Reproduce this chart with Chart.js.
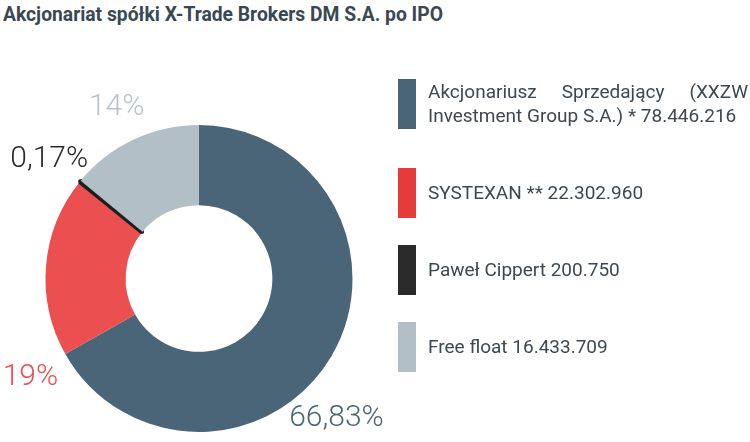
<!DOCTYPE html>
<html lang="pl">
<head>
<meta charset="utf-8">
<script src="https://cdn.jsdelivr.net/npm/chart.js@4"></script>
<style>
  html, body { margin: 0; padding: 0; background: #fff; }
  body { width: 750px; height: 442px; position: relative; overflow: hidden; font-family: Roboto, "Noto Sans", sans-serif; }
  h1 { position: absolute; left: 3px; top: 3px; margin: 0; font-size: 19.3px; font-weight: 700; color: #3a4853; }
  #wrap { position: absolute; left: 0; top: 0; width: 400px; height: 442px; }
  #legend { position: absolute; left: 398px; top: 79px; width: 350px; }
  .item { display: flex; align-items: center; height: 50px; margin-bottom: 27px; }
  .item:first-child { margin-bottom: 39px; }
  .box { width: 18px; height: 50px; flex: none; }
  .txt { margin-left: 12px; font-size: 19px; line-height: 24px; color: #3d4852; text-align: justify; text-align-last: left; width: 320px; }
</style>
</head>
<body>
<h1>Akcjonariat spółki X-Trade Brokers DM S.A. po IPO</h1>
<div id="wrap"><canvas id="donut"></canvas></div>
<div id="legend"></div>
<script>
// dane
const labels = ['Akcjonariusz Sprzedający (XXZW Investment Group S.A.) *', 'SYSTEXAN **', 'Paweł Cippert', 'Free float'];
const shares = [78446216, 22302960, 200750, 16433709];
const shareLabels = ['78.446.216', '22.302.960', '200.750', '16.433.709'];
const percentLabels = ['66,83%', '19%', '0,17%', '14%'];

const sliceColors = ['#4a6478', '#ec4f4f', '#1e1e1e', '#b3bfc6'];
const legendColors = ['#4a6478', '#e63b3b', '#2a2a2a', '#b3bfc6'];
const labelColors = ['#4a6478', '#ec4f4f', '#2a2a2a', '#b8c3ca'];
// gdzie w łuku postawić etykietę (ułamek łuku)
const labelAnchor = [0.56, 0.0, 0.5, 0.5];

// legenda HTML
const legend = document.getElementById('legend');
labels.forEach(function (l, i) {
    const item = document.createElement('div');
    item.className = 'item';
    item.innerHTML = '<div class="box" style="background:' + legendColors[i] + '"></div>' +
        '<div class="txt">' + l + ' ' + shareLabels[i] + '</div>';
    legend.appendChild(item);
});

// etykiety procentowe na zewnątrz pierścienia
const outerLabels = {
    id: 'outerLabels',
    afterDatasetsDraw(chart) {
        const ctx = chart.ctx;
        const meta = chart.getDatasetMeta(0);
        ctx.save();
        ctx.font = '300 30px Roboto';
        ctx.textAlign = 'center';
        ctx.textBaseline = 'middle';
        meta.data.forEach(function (arc, i) {
            const a = arc.startAngle + (arc.endAngle - arc.startAngle) * labelAnchor[i];
            const r = arc.outerRadius + 40;
            ctx.fillStyle = labelColors[i];
            ctx.fillText(percentLabels[i], arc.x + Math.cos(a) * r, arc.y + Math.sin(a) * r + 4);
        });
        ctx.restore();
    }
};

new Chart(document.getElementById('donut'), {
    type: 'doughnut',
    data: {
        labels: labels,
        datasets: [{
            data: shares,
            backgroundColor: sliceColors,
            borderColor: sliceColors,
            borderWidth: [0, 0, 4, 0]
        }]
    },
    options: {
        responsive: true,
        maintainAspectRatio: false,
        animation: false,
        cutout: '47.8%',
        layout: { padding: { top: 123, bottom: 8, left: 43, right: 45 } },
        plugins: {
            legend: { display: false },
            tooltip: { enabled: false }
        }
    },
    plugins: [outerLabels]
});
</script>
</body>
</html>
